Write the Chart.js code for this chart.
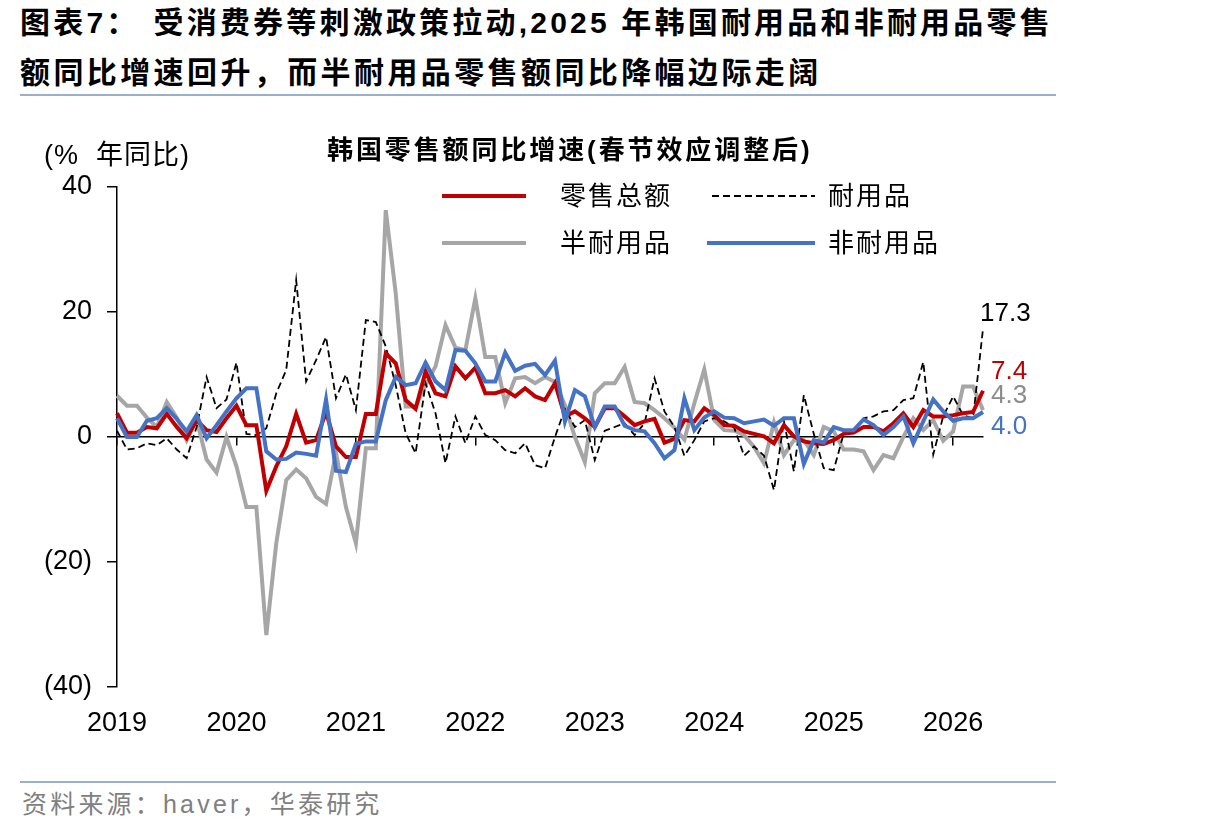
<!DOCTYPE html>
<html><head><meta charset="utf-8">
<script src="https://cdn.jsdelivr.net/npm/chart.js@4.4.1/dist/chart.umd.min.js"></script>
<style>
html,body{margin:0;padding:0;background:#fff;}
body{width:1206px;height:836px;overflow:hidden;position:relative;font-family:"Liberation Sans","Noto Sans CJK SC",sans-serif;color:#000;}
.t{position:absolute;white-space:nowrap;}
#c{position:absolute;left:0;top:0;}
.rule{position:absolute;left:20px;width:1036px;height:2px;background:#9AB0CC;}
</style></head>
<body>
<div class="t" style="left:20px;top:3px;font-size:30px;font-weight:bold;letter-spacing:3.2px;line-height:40px;">图表7：<span style="margin-left:14px">受消费券等刺激政策拉动,</span>2025 年韩国耐用品和非耐用品零售</div>
<div class="t" style="left:20px;top:53px;font-size:30px;font-weight:bold;letter-spacing:3.4px;line-height:40px;">额同比增速回升，而半耐用品零售额同比降幅边际走阔</div>
<div class="rule" style="top:94px;"></div>
<div class="rule" style="top:781px;"></div>
<div class="t" style="left:22px;top:789px;font-size:25px;letter-spacing:3.2px;line-height:30px;color:#808080;">资料来源：haver，华泰研究</div>
<canvas id="c" width="1206" height="836"></canvas>
<div class="t" style="left:44px;top:139px;font-size:27px;letter-spacing:1px;line-height:32px;">(%&nbsp; 年同比)</div>
<div class="t" style="left:327px;top:134px;font-size:26px;font-weight:bold;letter-spacing:2.9px;line-height:32px;">韩国零售额同比增速(春节效应调整后)</div>
<svg class="t" style="left:0;top:0" width="1206" height="300">
  <line x1="442" y1="196" x2="526" y2="196" stroke="#C00000" stroke-width="4"/>
  <line x1="712" y1="196" x2="815" y2="196" stroke="#000" stroke-width="1.8" stroke-dasharray="7,4"/>
  <line x1="442" y1="243" x2="526" y2="243" stroke="#A6A6A6" stroke-width="4"/>
  <line x1="707" y1="243" x2="815" y2="243" stroke="#4472C4" stroke-width="4"/>
</svg>
<div class="t" style="left:560px;top:180px;font-size:26px;letter-spacing:2px;line-height:32px;">零售总额</div>
<div class="t" style="left:828px;top:180px;font-size:26px;letter-spacing:2px;line-height:32px;">耐用品</div>
<div class="t" style="left:560px;top:227px;font-size:26px;letter-spacing:2px;line-height:32px;">半耐用品</div>
<div class="t" style="left:828px;top:227px;font-size:26px;letter-spacing:2px;line-height:32px;">非耐用品</div>
<script>
// Monthly categories Jan 2019 .. Apr 2026 (88 points)
const years = ['2019','2020','2021','2022','2023','2024','2025','2026'];
const months = [];
years.forEach(y => { for (let m = 1; m <= 12; m++) months.push(y + '-' + String(m).padStart(2,'0')); });
months.length = 88;

const retailTotal = [3.8,0.7,0.7,1.6,1.4,3.7,1.6,-0.2,2.7,1.1,0.8,3.0,
  5.0,1.9,1.9,-8.6,-4.7,-1.5,3.7,-0.9,-0.5,4.0,-1.5,-3.2,
  -3.2,3.7,3.7,13.4,11.8,5.9,4.5,10.5,7.0,6.5,11.3,9.4,
  11.1,7.0,7.0,7.5,6.5,7.8,6.5,5.9,8.6,3.3,4.1,3.0,
  1.6,4.6,4.6,3.3,1.9,2.5,2.9,-0.9,-0.3,2.7,2.5,4.6,
  3.5,1.9,1.8,0.9,0.5,0.1,-1.0,1.9,0.1,-0.7,-1.0,-1.1,
  -0.5,0.5,0.7,1.6,1.6,0.9,2.2,3.8,1.6,4.3,3.3,3.3,
  3.5,3.8,4.0,7.4];
const durable = [1.0,-2.0,-1.8,-1.0,-1.3,-0.2,-2.0,-3.4,1.6,9.6,4.6,6.0,
  11.9,0.5,0.3,1.4,7.0,10.7,25.1,8.9,12.3,16.0,6.2,10.0,
  4.3,18.7,18.4,14.5,8.3,0.6,-2.6,8.6,3.8,-4.2,3.3,-1.0,
  3.3,0.3,-0.5,-2.1,-2.6,-1.0,-4.5,-5.0,0.0,4.5,1.6,2.7,
  -3.7,1.0,1.6,2.2,0.3,2.2,9.4,4.1,1.6,-3.0,-0.5,2.5,
  3.0,2.5,1.5,-3.0,-1.5,-3.0,-8.5,2.5,-5.5,6.7,0.5,-5.0,
  -5.3,0.5,1.0,3.0,3.3,4.1,4.3,5.9,6.2,12.0,-2.8,3.3,
  6.5,3.5,3.0,17.3];
const semiDurable = [6.6,5.0,5.0,3.1,1.6,5.6,3.1,-0.5,2.8,-3.6,-5.7,0.0,
  -4.7,-11.2,-11.2,-31.7,-17.0,-6.9,-5.2,-6.6,-9.6,-10.7,-2.5,-11.2,
  -17.0,-1.8,-1.8,36.3,23.0,4.9,4.9,8.3,11.3,17.9,14.3,13.9,
  22.2,12.8,12.8,5.4,9.4,9.6,8.6,9.6,8.8,5.1,0.0,-4.0,
  7.0,8.6,8.6,11.2,5.6,5.4,4.3,3.0,1.5,-0.4,5.4,10.8,
  2.7,1.1,1.0,0.3,-1.6,-4.2,2.3,-2.9,-0.5,-0.5,-2.9,1.6,
  0.9,-2.0,-2.0,-2.3,-5.3,-2.9,-3.4,0.0,3.0,1.1,2.7,-0.6,
  0.9,8.1,8.1,4.3];
const nonDurable = [3.0,0.0,0.0,2.6,3.0,4.6,2.9,0.9,3.5,-0.2,1.9,4.1,
  6.2,7.8,7.8,-2.3,-3.6,-3.5,-2.5,-2.7,-3.0,6.0,-5.4,-5.6,
  -1.1,-0.7,-0.7,5.9,9.6,8.3,8.6,11.9,8.9,7.5,13.9,13.8,
  11.8,8.9,8.9,13.5,10.6,11.4,11.7,9.9,12.2,2.5,7.5,6.5,
  1.6,4.9,4.9,1.8,1.1,0.9,-1.0,-3.4,-2.1,6.2,1.1,3.1,
  4.1,3.1,3.0,2.2,2.5,2.8,1.8,3.0,3.0,-4.3,-0.5,-0.9,
  1.6,1.1,1.1,2.8,1.9,0.3,1.6,3.3,-1.0,2.5,6.0,4.1,
  2.6,3.0,3.0,4.0];

const yTicks = [-40,-20,0,20,40];
const FONT = '"Liberation Sans", Arial, sans-serif';

// label offsets (px) for the end-of-series value labels
const endLabelStyle = [
  {ds:1, dx:-3, dy:-15, color:'#000000'},
  {ds:0, dx:8, dy:-19, color:'#C00000'},
  {ds:2, dx:8, dy:-14, color:'#8C8C8C'},
  {ds:3, dx:8, dy:15, color:'#4472C4'}
];

const endLabels = {
  id:'endLabels',
  afterDatasetsDraw(chart){
    const ctx = chart.ctx;
    const xs = chart.scales.x, ys = chart.scales.y;
    ctx.save();
    ctx.font = '26px ' + FONT;
    ctx.textAlign = 'left';
    ctx.textBaseline = 'middle';
    endLabelStyle.forEach(s => {
      const d = chart.data.datasets[s.ds].data;
      const i = d.length - 1;
      const x = xs.getPixelForValue(i) + s.dx;
      const y = ys.getPixelForValue(d[i]) + s.dy;
      ctx.fillStyle = s.color;
      ctx.fillText(d[i].toFixed(1), x, y);
    });
    ctx.restore();
  }
};

new Chart(document.getElementById('c').getContext('2d'), {
  type:'line',
  data:{
    labels: months,
    datasets:[
      {label:'零售总额', data:retailTotal, borderColor:'#C00000', borderWidth:4, order:1},
      {label:'耐用品', data:durable, borderColor:'#000000', borderWidth:1.8, borderDash:[7,4], order:2},
      {label:'半耐用品', data:semiDurable, borderColor:'#A6A6A6', borderWidth:4, order:3},
      {label:'非耐用品', data:nonDurable, borderColor:'#4472C4', borderWidth:4, order:0}
    ]
  },
  options:{
    responsive:false,
    animation:false,
    layout:{padding:{left:0,right:223,top:187,bottom:0}},
    elements:{point:{radius:0}, line:{tension:0, borderJoinStyle:'miter', fill:false}},
    plugins:{legend:{display:false}, tooltip:{enabled:false}, title:{display:false}},
    scales:{
      x:{
        type:'category', position:'bottom', offset:false,
        grid:{display:false, drawTicks:false}, border:{display:false},
        ticks:{autoSkip:false, maxRotation:0, minRotation:0, padding:20, color:'#000',
          font:{family:FONT, size:27},
          callback:(v,i)=> (i % 12 === 0) ? years[i/12] : ''},
        afterFit:(s)=>{ s.height = 149; }
      },
      x0:{
        type:'category', position:{y:0}, offset:false,
        grid:{display:true, drawOnChartArea:false, drawTicks:true, tickLength:8, lineWidth:1.5,
          color:(c)=> (c.index % 12 === 0) ? '#000' : 'rgba(0,0,0,0)'},
        border:{display:true, color:'#000', width:1.5},
        ticks:{display:false, autoSkip:false}
      },
      y:{
        min:-40, max:40,
        afterBuildTicks:(s)=>{ s.ticks = yTicks.map(v=>({value:v})); },
        ticks:{padding:15, color:'#000', font:{family:FONT, size:27},
          callback:(v)=> v < 0 ? '(' + (-v) + ')' : String(v)},
        grid:{display:true, drawOnChartArea:false, drawTicks:true, tickLength:10, color:'#000', lineWidth:1.5},
        border:{display:true, color:'#000', width:1.5},
        afterFit:(s)=>{ s.width = 117; }
      }
    }
  },
  plugins:[endLabels]
});
</script>
</body></html>
